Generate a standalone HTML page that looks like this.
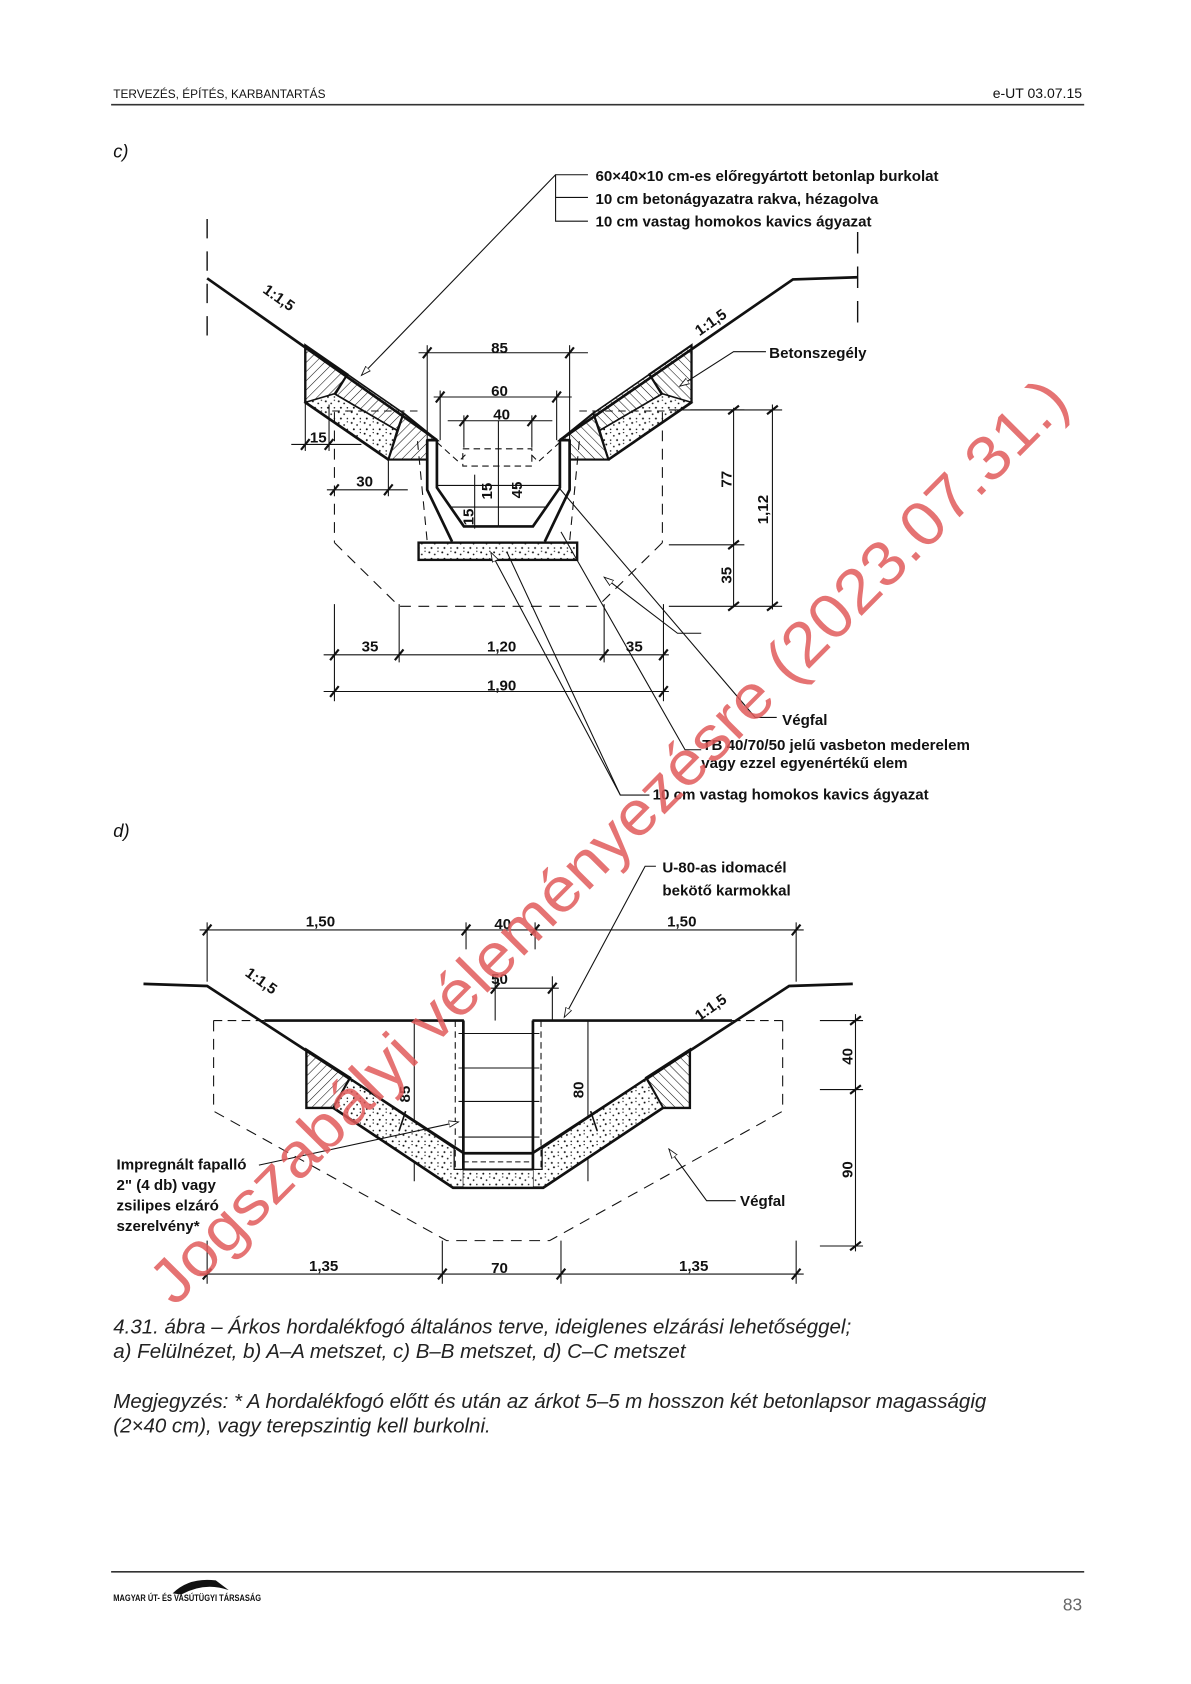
<!DOCTYPE html>
<html><head><meta charset="utf-8"><style>
html,body{margin:0;padding:0;background:#fff;}
svg{display:block;}
text{font-family:"Liberation Sans",sans-serif;}
.b{font-weight:bold;font-size:14px;fill:#111;}
.d{font-weight:bold;font-size:14px;fill:#111;}
</style></head><body>
<svg width="1191" height="1684" viewBox="0 0 1104 1561" xmlns="http://www.w3.org/2000/svg">
<defs>
<pattern id="h" width="6" height="6" patternUnits="userSpaceOnUse" patternTransform="rotate(45)">
<line x1="0" y1="0" x2="0" y2="6" stroke="#111" stroke-width="1"/></pattern>
<pattern id="g" width="12" height="10" patternUnits="userSpaceOnUse">
<rect width="12" height="10" fill="#fff"/>
<circle cx="2" cy="2" r="0.9" fill="#111"/><circle cx="7" cy="4" r="0.8" fill="#111"/>
<circle cx="4" cy="8" r="0.9" fill="#111"/><circle cx="10" cy="8" r="0.7" fill="#111"/>
<circle cx="10" cy="1" r="0.6" fill="#111"/></pattern>
<marker id="ar" markerWidth="10" markerHeight="8" refX="9" refY="4" orient="auto" markerUnits="userSpaceOnUse">
<path d="M0,1 L9,4 L0,7 Z" fill="#fff" stroke="#111" stroke-width="0.8"/></marker>
</defs>

<!-- header -->
<text x="105" y="91" font-size="11" fill="#111">TERVEZÉS, ÉPÍTÉS, KARBANTARTÁS</text>
<text x="1003" y="91" font-size="13" text-anchor="end" fill="#111">e-UT 03.07.15</text>
<line x1="103" y1="97" x2="1005" y2="97" stroke="#333" stroke-width="1.5"/>

<text x="105" y="146" font-size="17" font-style="italic" fill="#111">c)</text>

<!-- section c labels -->
<g stroke="#111" stroke-width="1" fill="none">
<polyline points="545,162 515,162 515,205 545,205"/>
<line x1="515" y1="183" x2="545" y2="183"/>
<line x1="515" y1="162" x2="335" y2="348" marker-end="url(#ar)"/>
</g>
<text class="b" x="552" y="168">60×40×10 cm-es előregyártott betonlap burkolat</text>
<text class="b" x="552" y="189">10 cm betonágyazatra rakva, hézagolva</text>
<text class="b" x="552" y="210">10 cm vastag homokos kavics ágyazat</text>

<!-- ground lines c -->
<g stroke="#111" fill="none">
<line x1="192" y1="203" x2="192" y2="322" stroke-dasharray="18,12" stroke-width="1.3"/>
<line x1="795" y1="215" x2="795" y2="302" stroke-dasharray="20,12" stroke-width="1.3"/>
<polyline points="192,258 405,408" stroke-width="2.5"/>
<polyline points="795,257 735,259 519,408" stroke-width="2.5"/>
</g>
<text x="238" y="278" class="d" transform="rotate(35 252 282)">1:1,5</text>
<text x="640" y="305" class="d" transform="rotate(-35 655 295)">1:1,5</text>

<!-- left assembly c -->
<g id="lc" stroke="#111" stroke-width="2">
<polygon points="283,320 322,347 306,373 283,373" fill="url(#h)"/>
<polygon points="322,347 374,383 368,399 310,365" fill="url(#h)" stroke-width="1.5"/>
<polygon points="283,373 310,365 368,399 360,426" fill="url(#g)" stroke-width="1.5"/>
<polygon points="374,383 405,408 396,408 396,426 360,426" fill="url(#h)"/>
<line x1="283" y1="320" x2="283" y2="373"/>
<line x1="283" y1="373" x2="360" y2="426" stroke-width="2.5"/>
<line x1="308" y1="381" x2="390" y2="381" stroke-dasharray="7,5" stroke-width="1"/>
<line x1="310" y1="382" x2="310" y2="503" stroke-dasharray="10,7" stroke-width="1"/>
<polyline points="310,503 370,562 462,562" fill="none" stroke-dasharray="10,7" stroke-width="1"/>
<polyline points="387,409 396,502" fill="none" stroke-dasharray="8,6" stroke-width="1"/>
<polyline points="396,408 396,454 419,502" fill="none" stroke-width="2.5"/>
<polyline points="405,408 405,452 430,488 462,488" fill="none" stroke-width="2.5"/>
<polyline points="405,410 425,428 433,420" fill="none" stroke-dasharray="6,4" stroke-width="1"/>
</g>
<use href="#lc" transform="translate(924,0) scale(-1,1)"/>
<line x1="396" y1="408" x2="405" y2="408" stroke="#111" stroke-width="2.5"/>
<line x1="519" y1="408" x2="528" y2="408" stroke="#111" stroke-width="2.5"/>
<rect x="388" y="503" width="147" height="16" fill="url(#g)" stroke="#111" stroke-width="2.2"/>
<g stroke="#111" stroke-width="1" fill="none">
<rect x="429" y="416" width="64" height="16" stroke-dasharray="6,4"/>
<line x1="405" y1="450" x2="519" y2="450"/>
<line x1="417" y1="470" x2="507" y2="470"/>
<line x1="462" y1="390" x2="462" y2="488"/>
<!-- dims -->
<line x1="388" y1="327" x2="545" y2="327"/><line x1="396" y1="320" x2="396" y2="410"/><line x1="528" y1="320" x2="528" y2="410"/>
<line x1="402" y1="368" x2="530" y2="368"/><line x1="408" y1="362" x2="408" y2="408"/><line x1="516" y1="362" x2="516" y2="408"/>
<line x1="415" y1="390" x2="512" y2="390"/><line x1="430" y1="385" x2="430" y2="415"/><line x1="493" y1="385" x2="493" y2="415"/>
<line x1="270" y1="412" x2="335" y2="412"/><line x1="283" y1="373" x2="283" y2="418"/><line x1="305" y1="375" x2="305" y2="418"/>
<line x1="303" y1="454" x2="378" y2="454"/><line x1="360" y1="426" x2="360" y2="460"/>
<line x1="440" y1="440" x2="440" y2="490"/>
<line x1="640" y1="380" x2="690" y2="380"/><line x1="620" y1="505" x2="690" y2="505"/>
<line x1="680" y1="378" x2="680" y2="562"/>
<line x1="620" y1="380" x2="725" y2="380"/><line x1="716" y1="375" x2="716" y2="565"/>
<line x1="620" y1="562" x2="725" y2="562"/>
<line x1="300" y1="607" x2="620" y2="607"/><line x1="300" y1="641" x2="620" y2="641"/>
<line x1="310" y1="560" x2="310" y2="650"/><line x1="370" y1="560" x2="370" y2="614"/>
<line x1="560" y1="560" x2="560" y2="614"/><line x1="615" y1="560" x2="615" y2="650"/>
</g>
<g stroke="#111" stroke-width="2">
<line x1="392" y1="332" x2="400" y2="322"/><line x1="524" y1="332" x2="532" y2="322"/>
<line x1="404" y1="373" x2="412" y2="363"/><line x1="512" y1="373" x2="520" y2="363"/>
<line x1="426" y1="395" x2="434" y2="385"/><line x1="489" y1="395" x2="497" y2="385"/>
<line x1="279" y1="417" x2="287" y2="407"/><line x1="301" y1="417" x2="309" y2="407"/>
<line x1="306" y1="459" x2="314" y2="449"/><line x1="356" y1="459" x2="364" y2="449"/>
<line x1="675" y1="384" x2="685" y2="376"/><line x1="675" y1="509" x2="685" y2="501"/><line x1="675" y1="566" x2="685" y2="558"/>
<line x1="711" y1="384" x2="721" y2="376"/><line x1="711" y1="566" x2="721" y2="558"/>
<line x1="306" y1="612" x2="314" y2="602"/><line x1="366" y1="612" x2="374" y2="602"/><line x1="556" y1="612" x2="564" y2="602"/><line x1="611" y1="612" x2="619" y2="602"/>
<line x1="306" y1="646" x2="314" y2="636"/><line x1="611" y1="646" x2="619" y2="636"/>
</g>
<g class="d">
<text x="463" y="327" text-anchor="middle" class="d">85</text>
<text x="463" y="367" text-anchor="middle" class="d">60</text>
<text x="465" y="389" text-anchor="middle" class="d">40</text>
<text x="295" y="410" text-anchor="middle" class="d">15</text>
<text x="338" y="451" text-anchor="middle" class="d">30</text>
<text x="343" y="604" text-anchor="middle" class="d">35</text>
<text x="465" y="604" text-anchor="middle" class="d">1,20</text>
<text x="588" y="604" text-anchor="middle" class="d">35</text>
<text x="465" y="640" text-anchor="middle" class="d">1,90</text>
<text class="d" transform="translate(439,487) rotate(-90)">15</text>
<text class="d" transform="translate(456,463) rotate(-90)">15</text>
<text class="d" transform="translate(484,462) rotate(-90)">45</text>
<text class="d" transform="translate(678,452) rotate(-90)">77</text>
<text class="d" transform="translate(712,486) rotate(-90)">1,12</text>
<text class="d" transform="translate(678,541) rotate(-90)">35</text>
</g>
<!-- leaders c -->
<g stroke="#111" stroke-width="1" fill="none">
<polyline points="710,326 680,326 630,358" marker-end="url(#ar)"/>
<polyline points="720,665 700,665 518,452"/>
<polyline points="650,587 628,587 560,535" marker-end="url(#ar)"/>
<polyline points="650,695 635,695 520,493"/>
<polyline points="602,737 575,737 455,512" marker-end="url(#ar)"/>
<polyline points="575,737 470,512"/>
</g>
<text class="b" x="713" y="332">Betonszegély</text>
<text class="b" x="725" y="672">Végfal</text>
<text class="b" x="651" y="695">TB 40/70/50 jelű vasbeton mederelem</text>
<text class="b" x="650" y="712">vagy ezzel egyenértékű elem</text>
<text class="b" x="605" y="741">10 cm vastag homokos kavics ágyazat</text>

<text x="105" y="776" font-size="17" font-style="italic" fill="#111">d)</text>

<!-- section d -->
<text class="b" x="614" y="809">U-80-as idomacél</text>
<text class="b" x="614" y="830">bekötő karmokkal</text>
<g stroke="#111" stroke-width="1" fill="none">
<polyline points="608,803 598,803 523,943" marker-end="url(#ar)"/>
<line x1="185" y1="862" x2="745" y2="862"/>
<line x1="192" y1="855" x2="192" y2="910"/><line x1="432" y1="855" x2="432" y2="880"/><line x1="496" y1="855" x2="496" y2="880"/><line x1="738" y1="855" x2="738" y2="910"/>
<line x1="455" y1="916" x2="518" y2="916"/><line x1="459" y1="905" x2="459" y2="946"/><line x1="512" y1="905" x2="512" y2="946"/>
<line x1="384" y1="946" x2="384" y2="1095"/><line x1="545" y1="946" x2="545" y2="1095"/>
<line x1="760" y1="946" x2="800" y2="946"/><line x1="760" y1="1010" x2="800" y2="1010"/><line x1="760" y1="1155" x2="800" y2="1155"/>
<line x1="793" y1="940" x2="793" y2="1160"/>
<line x1="185" y1="1181" x2="745" y2="1181"/>
<line x1="192" y1="1150" x2="192" y2="1190"/><line x1="410" y1="1150" x2="410" y2="1190"/><line x1="520" y1="1150" x2="520" y2="1190"/><line x1="738" y1="1150" x2="738" y2="1190"/>
</g>
<g stroke="#111" stroke-width="2">
<line x1="188" y1="867" x2="196" y2="857"/><line x1="428" y1="867" x2="436" y2="857"/><line x1="492" y1="867" x2="500" y2="857"/><line x1="734" y1="867" x2="742" y2="857"/>
<line x1="455" y1="921" x2="463" y2="911"/><line x1="508" y1="921" x2="516" y2="911"/>
<line x1="788" y1="950" x2="798" y2="942"/><line x1="788" y1="1014" x2="798" y2="1006"/><line x1="788" y1="1159" x2="798" y2="1151"/>
<line x1="188" y1="1186" x2="196" y2="1176"/><line x1="406" y1="1186" x2="414" y2="1176"/><line x1="516" y1="1186" x2="524" y2="1176"/><line x1="734" y1="1186" x2="742" y2="1176"/>
</g>
<g id="ld" stroke="#111" stroke-width="2.2" fill="none">
<polyline points="133,912 192,914 430,1069" stroke-width="2.5"/>
<line x1="245" y1="946" x2="430" y2="946" stroke-width="2.5"/>
<line x1="198" y1="946" x2="245" y2="946" stroke-dasharray="8,5" stroke-width="1"/>
<polyline points="198,946 198,1030 414,1150 462,1150" stroke-dasharray="10,7" stroke-width="1"/>
<polygon points="284,973 324.5,999 309,1027 284,1027" fill="url(#h)"/>
<polygon points="309,1027 324.5,1000 421,1064 421,1084 429.5,1084 429.5,1101 462,1101 462,1101 420,1101" fill="url(#g)" stroke-width="1.2"/>
<polyline points="309,1027 420,1101 462,1101" stroke-width="2.5"/>
<line x1="324.5" y1="1000" x2="421" y2="1064"/>
<line x1="370" y1="1048" x2="376" y2="1030" stroke-width="1.5"/>
<line x1="429.5" y1="946" x2="429.5" y2="1084" stroke-width="2.5"/>
<line x1="422" y1="946" x2="422" y2="1084" stroke-dasharray="6,4" stroke-width="1"/>
</g>
<use href="#ld" transform="translate(923.5,0) scale(-1,1)"/>
<g stroke="#111" fill="none">
<line x1="429.5" y1="1069" x2="494" y2="1069" stroke-width="2.5"/>
<line x1="429.5" y1="1084" x2="494" y2="1084" stroke-width="2"/>
<line x1="429.5" y1="1077" x2="494" y2="1077" stroke-dasharray="5,3" stroke-width="1"/>
<g stroke-width="1"><line x1="425" y1="958" x2="500" y2="958"/><line x1="425" y1="990" x2="500" y2="990"/><line x1="425" y1="1021" x2="500" y2="1021"/><line x1="425" y1="1054" x2="500" y2="1054"/></g>
</g>
<rect x="429.5" y="1085" width="64.5" height="15" fill="url(#g)"/>
<g class="d">
<text x="297" y="859" text-anchor="middle" class="d">1,50</text>
<text x="466" y="861" text-anchor="middle" class="d">40</text>
<text x="632" y="859" text-anchor="middle" class="d">1,50</text>
<text x="463" y="912" text-anchor="middle" class="d">50</text>
<text x="300" y="1178" text-anchor="middle" class="d">1,35</text>
<text x="463" y="1180" text-anchor="middle" class="d">70</text>
<text x="643" y="1178" text-anchor="middle" class="d">1,35</text>
<text class="d" transform="translate(380,1022) rotate(-90)">85</text>
<text class="d" transform="translate(541,1018) rotate(-90)">80</text>
<text class="d" transform="translate(790,987) rotate(-90)">40</text>
<text class="d" transform="translate(790,1092) rotate(-90)">90</text>
</g>
<text x="222" y="912" class="d" transform="rotate(35 237 915)">1:1,5</text>
<text x="640" y="940" class="d" transform="rotate(-35 655 930)">1:1,5</text>
<g stroke="#111" stroke-width="1" fill="none">
<polyline points="682,1113 655,1113 620,1065" marker-end="url(#ar)"/>
<line x1="240" y1="1080" x2="425" y2="1040" marker-end="url(#ar)"/>
</g>
<text class="b" x="686" y="1118">Végfal</text>
<text class="b" x="108" y="1084">Impregnált fapalló</text>
<text class="b" x="108" y="1103">2" (4 db) vagy</text>
<text class="b" x="108" y="1122">zsilipes elzáró</text>
<text class="b" x="108" y="1141">szerelvény*</text>

<!-- caption -->
<g font-size="19" font-style="italic" fill="#222">
<text x="105" y="1236">4.31. ábra – Árkos hordalékfogó általános terve, ideiglenes elzárási lehetőséggel;</text>
<text x="105" y="1259">a) Felülnézet, b) A–A metszet, c) B–B metszet, d) C–C metszet</text>
<text x="105" y="1305">Megjegyzés: * A hordalékfogó előtt és után az árkot 5–5 m hosszon két betonlapsor magasságig</text>
<text x="105" y="1328">(2×40 cm), vagy terepszintig kell burkolni.</text>
</g>

<!-- footer -->
<line x1="103" y1="1457" x2="1005" y2="1457" stroke="#333" stroke-width="1.5"/>
<path d="M160,1477 Q175,1462 200,1465 L212,1474 Q190,1466 168,1478 Z" fill="#111"/>
<text x="105" y="1484" font-size="8.5" font-weight="bold" fill="#111" textLength="137" lengthAdjust="spacingAndGlyphs">MAGYAR ÚT- ÉS VASÚTÜGYI TÁRSASÁG</text>
<text x="1003" y="1493" font-size="16" text-anchor="end" fill="#666">83</text>

<!-- watermark -->
<text x="0" y="0" font-size="58" fill="#e05a5a" fill-opacity="0.85" textLength="1180" lengthAdjust="spacingAndGlyphs" transform="translate(162,1212) rotate(-45.2)">Jogszabályi véleményezésre (2023.07.31.)</text>
</svg>
</body></html>
